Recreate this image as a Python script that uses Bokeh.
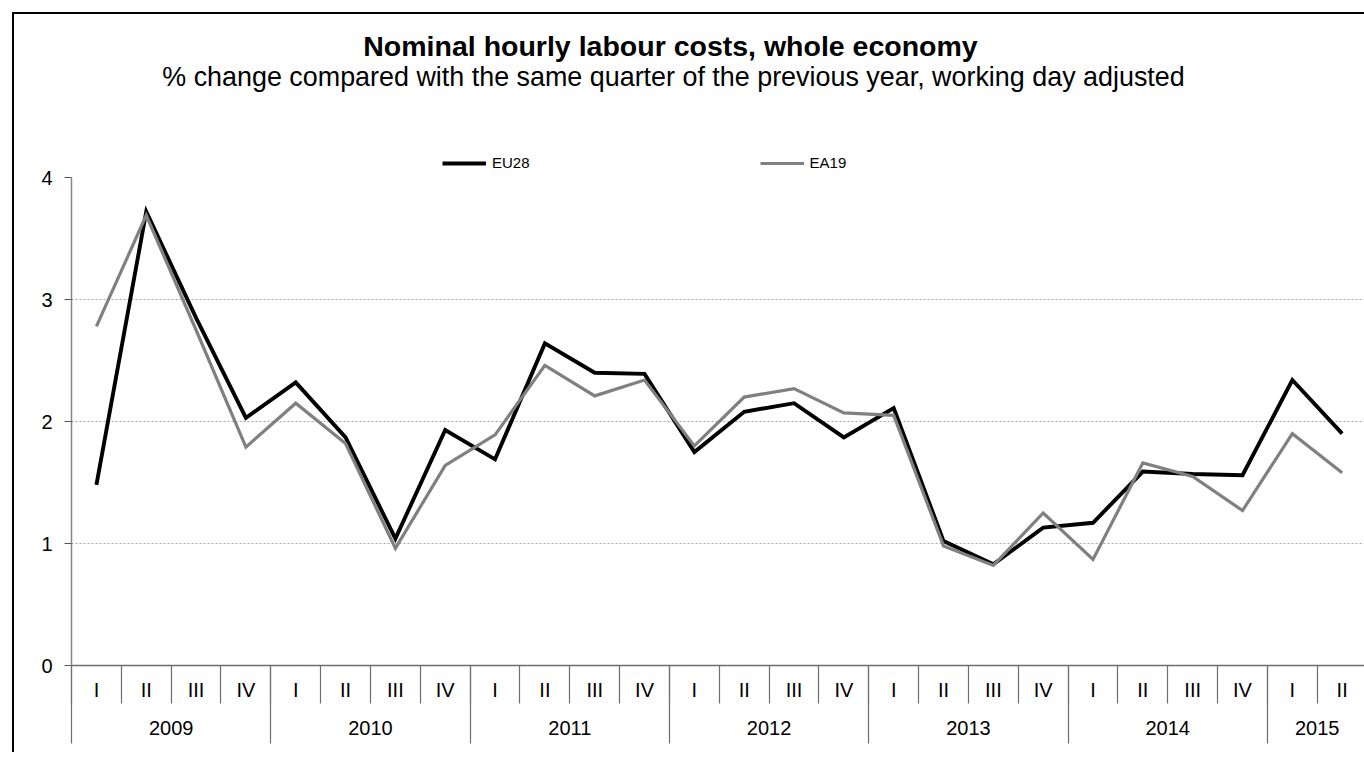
import numpy as np
from bokeh.plotting import figure
from bokeh.models import (Range1d, FixedTicker, LinearAxis, Label, Legend,
                          LegendItem, Grid, InlineStyleSheet)
from bokeh.embed import file_html
from bokeh.resources import INLINE

# ---- data ----
years = ["2009", "2010", "2011", "2012", "2013", "2014", "2015"]
quarters_per_year = [4, 4, 4, 4, 4, 4, 2]
quarter_names = ["I", "II", "III", "IV"]
eu28 = [1.48, 3.72, 2.85, 2.03, 2.32, 1.87, 1.04, 1.93, 1.69, 2.64, 2.40, 2.39, 1.75,
        2.08, 2.15, 1.87, 2.11, 1.02, 0.83, 1.13, 1.17, 1.59, 1.57, 1.56, 2.34, 1.90]
ea19 = [2.78, 3.69, 2.75, 1.79, 2.15, 1.82, 0.96, 1.64, 1.89, 2.46, 2.21, 2.34, 1.80,
        2.20, 2.27, 2.07, 2.05, 0.98, 0.82, 1.25, 0.87, 1.66, 1.55, 1.27, 1.90, 1.58]
y_ticks = [0, 1, 2, 3, 4]
grid_ticks = [1, 2, 3]
title_text = "Nominal hourly labour costs, whole economy"
subtitle_text = "% change compared with the same quarter of the previous year, working day adjusted"

quarter_labels = [quarter_names[q] for n in quarters_per_year for q in range(n)]
n = len(quarter_labels)
xc = [i + 0.5 for i in range(n)]
bounds = [float(b) for b in range(n)]
cum = np.cumsum([0] + quarters_per_year)
year_starts = [float(c) for c in cum[:-1]]
year_centers = [float((cum[i] + cum[i + 1]) / 2) for i in range(len(years))]

FONT = "Liberation Sans"
W, H = 1364, 752
FRAME_LEFT, FRAME_BOTTOM, Y4_PX = 71, 665, 177
px_per_unit = (FRAME_BOTTOM - Y4_PX) / 4.0          # 122 px per 1 %
px_per_q = 49.83
y_top = FRAME_BOTTOM / px_per_unit                   # frame reaches the canvas top
x_end = (W - FRAME_LEFT) / px_per_q

p = figure(width=W, height=H, output_backend="svg", toolbar_location=None,
           x_range=Range1d(0, x_end), y_range=Range1d(0, y_top),
           x_axis_type=None, y_axis_type=None,
           min_border_left=FRAME_LEFT, min_border_right=0, min_border_top=0,
           min_border_bottom=H - FRAME_BOTTOM)
p.outline_line_color = None
p.background_fill_color = "white"
p.border_fill_color = "white"

# outer chart border: left edge and top edge only
p.stylesheets = [InlineStyleSheet(css="""
:host { position: relative; overflow: hidden; }
:host::before { content: ''; position: absolute; left: 12px; top: 12px;
  width: 2px; height: 740px; background: black; pointer-events: none; z-index: 10; }
:host::after { content: ''; position: absolute; left: 12px; top: 12px;
  width: 1352px; height: 2px; background: black; pointer-events: none; z-index: 10; }
""")]

# grid
p.add_layout(Grid(dimension=1, ticker=FixedTicker(ticks=grid_ticks),
                  grid_line_color="#a6a6a6", grid_line_dash="2 2", grid_line_width=1))

# y axis
yax = LinearAxis(ticker=FixedTicker(ticks=y_ticks, minor_ticks=[]), bounds=(0, 4),
                 major_tick_out=7, major_tick_in=0, minor_tick_out=0, minor_tick_in=0,
                 axis_line_color="#868686", axis_line_width=1.5,
                 major_tick_line_color="#555555",
                 major_label_text_font_size="20px", major_label_text_font=FONT,
                 major_label_text_color="black", major_label_standoff=12)
p.add_layout(yax, "left")

# quarter axis
qax = LinearAxis(ticker=FixedTicker(ticks=xc, minor_ticks=bounds),
                 major_label_overrides={float(v): lab for v, lab in zip(xc, quarter_labels)},
                 major_tick_out=0, major_tick_in=0, minor_tick_out=38, minor_tick_in=0,
                 axis_line_color="#6e6e6e", axis_line_width=1.5,
                 minor_tick_line_color="#6e6e6e", minor_tick_line_width=1.2,
                 major_label_text_font_size="20px", major_label_text_font=FONT,
                 major_label_text_color="black", major_label_standoff=-25)
p.add_layout(qax, "below")

# year axis
yrax = LinearAxis(ticker=FixedTicker(ticks=year_centers, minor_ticks=year_starts),
                  major_label_overrides={float(v): lab for v, lab in zip(year_centers, years)},
                  major_tick_out=0, major_tick_in=0, minor_tick_out=40, minor_tick_in=37,
                  axis_line_color=None,
                  minor_tick_line_color="#6e6e6e", minor_tick_line_width=1.2,
                  major_label_text_font_size="20px", major_label_text_font=FONT,
                  major_label_text_color="black", major_label_standoff=-23)
p.add_layout(yrax, "below")

# lines
r1 = p.line(x=xc, y=eu28, line_color="black", line_width=3.9, line_join="miter")
r2 = p.line(x=xc, y=ea19, line_color="#808080", line_width=3.2, line_join="miter")

legend = Legend(items=[LegendItem(label="EU28", renderers=[r1]),
                       LegendItem(label="EA19", renderers=[r2])],
                location=(442 - FRAME_LEFT, FRAME_BOTTOM - 171), orientation="horizontal",
                glyph_width=44, glyph_height=16, label_standoff=6, spacing=230,
                padding=0, margin=0, border_line_color=None,
                background_fill_alpha=0,
                label_text_font=FONT, label_text_font_size="15px",
                label_text_color="black")
p.add_layout(legend)

# titles (positioned through the frame's scales)
def px_x(px):
    return (px - FRAME_LEFT) / px_per_q

def px_y(py):
    return (FRAME_BOTTOM - py) / px_per_unit

p.add_layout(Label(x=px_x(670), y=px_y(45), text=title_text,
                   text_align="center", text_baseline="alphabetic",
                   text_font=FONT, text_font_size="28.5px", text_font_style="bold",
                   text_color="black"))
p.add_layout(Label(x=px_x(673), y=px_y(76), text=subtitle_text,
                   text_align="center", text_baseline="alphabetic",
                   text_font=FONT, text_font_size="26.9px", text_color="black"))

open("out.html", "w").write(file_html(p, INLINE))
